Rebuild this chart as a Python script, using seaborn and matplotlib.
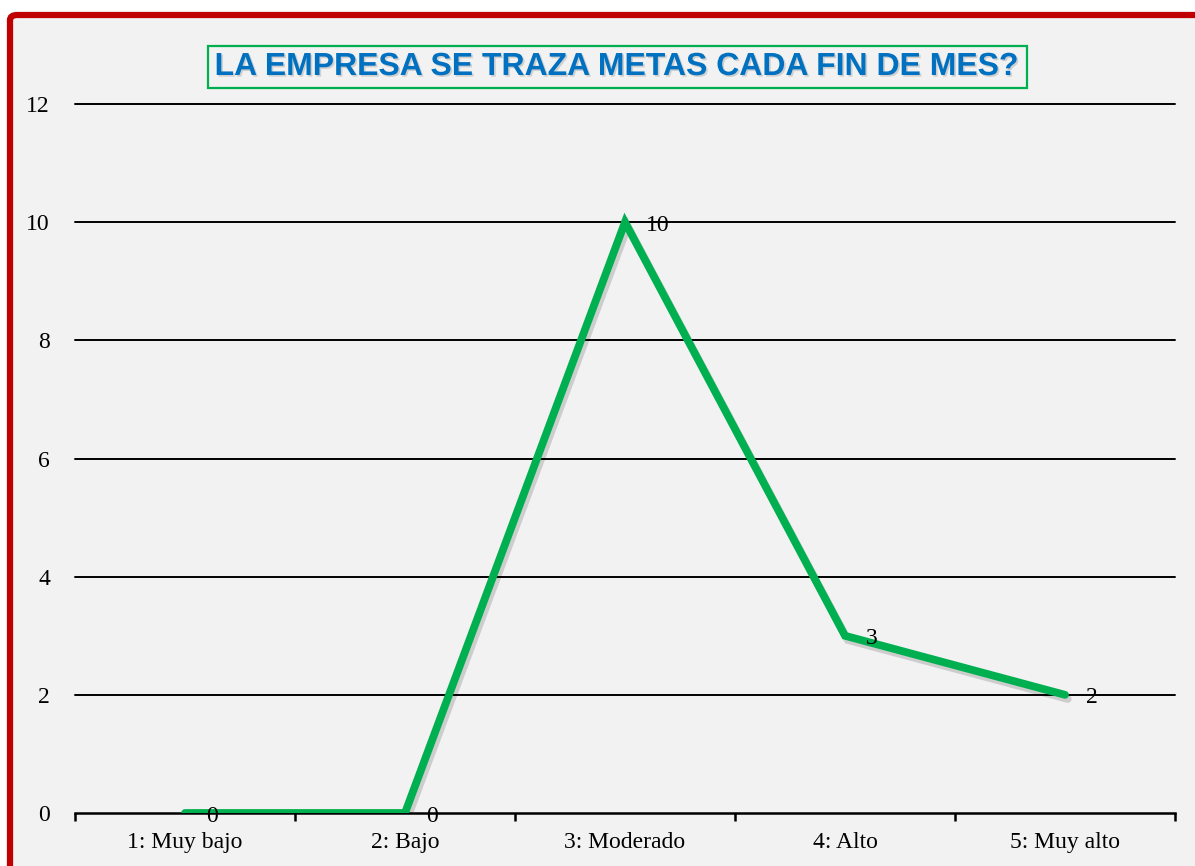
import matplotlib
matplotlib.use("Agg")
import matplotlib.pyplot as plt
import matplotlib.patheffects as pe
from matplotlib.patches import FancyBboxPatch
import seaborn as sns
import pandas as pd

categories = ["1: Muy bajo", "2: Bajo", "3: Moderado", "4: Alto", "5: Muy alto"]
values = [0, 0, 10, 3, 2]
yticks = [0, 2, 4, 6, 8, 10, 12]
title = "LA EMPRESA SE TRAZA METAS CADA FIN DE MES?"

sns.set_theme(style="white")
plt.rcParams['font.family'] = ['Liberation Serif', 'DejaVu Serif']

df = pd.DataFrame({"cat": categories, "val": values, "pos": range(len(categories))})

fig = plt.figure(figsize=(11.95, 8.66), dpi=100, facecolor="white")
W, H = 1195, 866
# background panel with red border
bg = FancyBboxPatch((10 / W, -0.05), 1.05, 1 - 15 / H + 0.05,
                    boxstyle="round,pad=0,rounding_size=0.006",
                    transform=fig.transFigure, facecolor="#f2f2f2",
                    edgecolor="#c00000", linewidth=4.5, zorder=-10)
fig.patches.append(bg)

ax = fig.add_axes([75 / W, 1 - 813 / H, 1100 / W, (813 - 104) / H])
ax.set_facecolor("none")
ax.set_zorder(5)

sns.lineplot(data=df, x="pos", y="val", ax=ax, color="#00b050", linewidth=5.6,
             solid_capstyle="round", solid_joinstyle="miter", zorder=3,
             path_effects=[pe.SimpleLineShadow(offset=(2, -3), alpha=0.15, shadow_color="black"),
                           pe.Normal()])

for x, v in zip(df["pos"], df["val"]):
    ax.annotate(str(v), (x, v), xytext=(21, -3), textcoords="offset pixels",
                ha="left", va="center", fontsize=17, color="black", zorder=5,
                annotation_clip=False)

ax.set_xlim(-0.5, len(categories) - 0.5)
ax.set_ylim(0, 12)
ax.set_yticks(yticks)
ax.set_yticklabels([str(t) for t in yticks])
ax.set_xticks(range(len(categories)))
ax.set_xticklabels(categories)
ax.set_xticks([i - 0.5 for i in range(len(categories) + 1)], minor=True)
ax.tick_params(axis="x", which="major", length=0, pad=14, labelsize=17, colors="black")
ax.tick_params(axis="x", which="minor", length=6, width=1.8, color="black", direction="out", bottom=True)
ax.tick_params(axis="y", which="major", length=0, pad=18, labelsize=17, colors="black")
ax.set_xlabel("")
ax.set_ylabel("")

ax.grid(False)
for t in yticks:
    if t > 0:
        ax.axhline(t, color="black", linewidth=1.4, zorder=1, clip_on=False)

for s in ["left", "right", "top"]:
    ax.spines[s].set_visible(False)
ax.spines["bottom"].set_color("black")
ax.spines["bottom"].set_linewidth(1.8)

fig.text(617.5 / W, 1 - 67 / H, title, ha="center", va="center",
         fontsize=23, fontweight="bold", color="#0070c0", family=["Liberation Sans", "DejaVu Sans"],
         path_effects=[pe.withSimplePatchShadow(offset=(1.2, -1.2), shadow_rgbFace="gray", alpha=0.3)],
         bbox=dict(boxstyle="square,pad=0.2", facecolor="none", edgecolor="#00b050", linewidth=1.6))

fig.savefig("out.png", dpi=100, facecolor=fig.get_facecolor())
